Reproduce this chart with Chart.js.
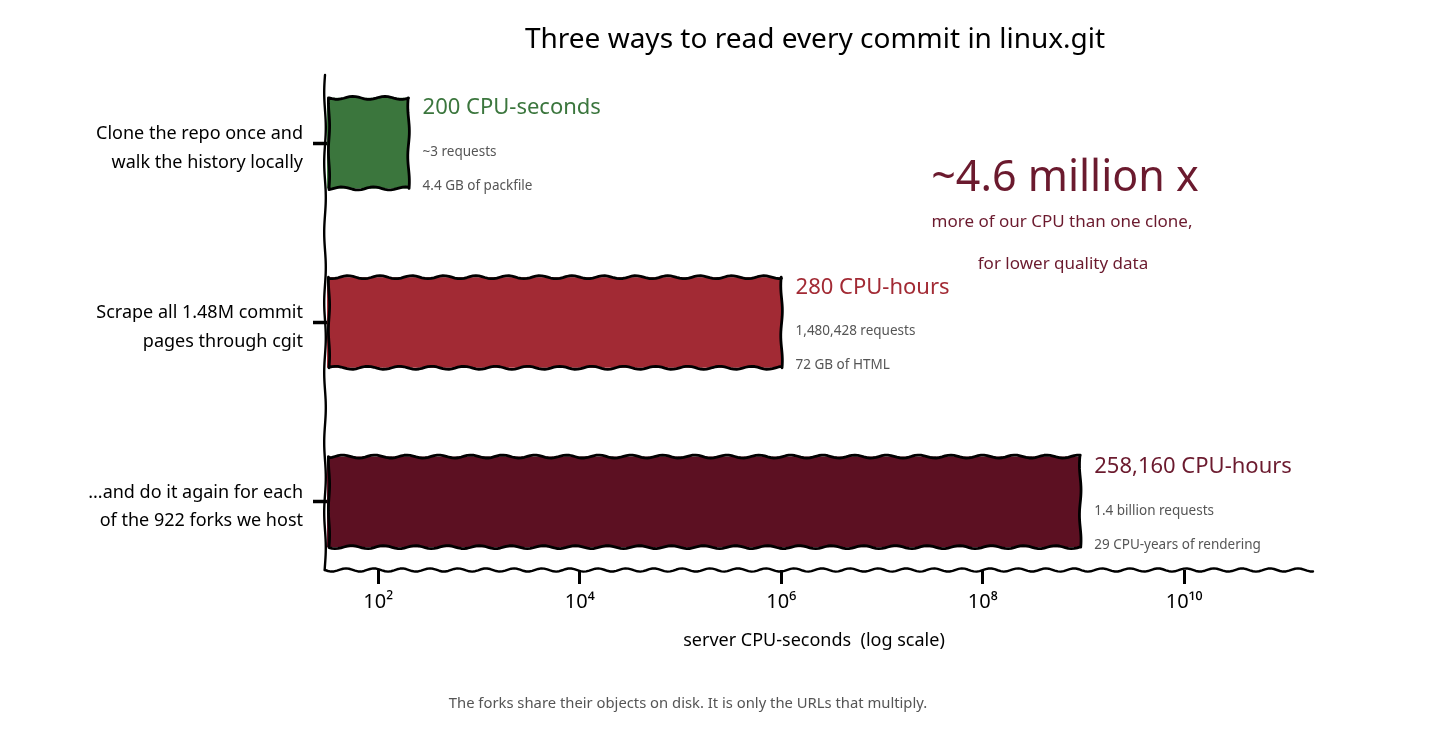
<!DOCTYPE html>
<html>
<head>
<meta charset="utf-8">
<script src="https://cdn.jsdelivr.net/npm/chart.js@4.4.1/dist/chart.umd.min.js"></script>
<style>
  html, body { margin: 0; padding: 0; background: #fff; }
  #wrap { width: 1444px; height: 742px; }
</style>
</head>
<body>
<div id="wrap"><canvas id="c"></canvas></div>
<script>
// data
const categories = [
  ["Clone the repo once and", "walk the history locally"],
  ["Scrape all 1.48M commit", "pages through cgit"],
  ["...and do it again for each", "of the 922 forks we host"]
];
const cpuSeconds = [200, 1008000, 929376000];   // 200 s, 280 h, 258,160 h
const valueLabels = ["200 CPU-seconds", "280 CPU-hours", "258,160 CPU-hours"];
const detailLines = [
  ["~3 requests", "4.4 GB of packfile"],
  ["1,480,428 requests", "72 GB of HTML"],
  ["1.4 billion requests", "29 CPU-years of rendering"]
];
const barColors = ["#3b763d", "#a22a34", "#5c1022"];
const labelColors = ["#3b763d", "#a22a34", "#6b1a2e"];
const xTickValues = [1e2, 1e4, 1e6, 1e8, 1e10];
const xTickLabels = ["10²", "10⁴", "10⁶", "10⁸", "10¹⁰"];

const FONT = "'Noto Sans', sans-serif";

// little sine wobble along a straight line, xkcd style
function wavy(ctx, x0, y0, x1, y1, amp, period, phase, move) {
  const len = Math.hypot(x1 - x0, y1 - y0);
  const nx = -(y1 - y0) / len, ny = (x1 - x0) / len;
  const steps = Math.max(2, Math.round(len / 3));
  for (let i = 0; i <= steps; i++) {
    const t = i / steps;
    const w = amp * Math.sin(2 * Math.PI * (t * len) / period + phase);
    const px = x0 + (x1 - x0) * t + nx * w;
    const py = y0 + (y1 - y0) * t + ny * w;
    if (i === 0 && move) ctx.moveTo(px, py); else ctx.lineTo(px, py);
  }
}

const sketch = {
  id: 'sketch',
  afterDatasetsDraw(chart) {
    const ctx = chart.ctx;
    const area = chart.chartArea;
    const meta = chart.getDatasetMeta(0);
    ctx.save();
    ctx.strokeStyle = '#000';
    ctx.lineWidth = 2.8;
    ctx.lineJoin = 'round';
    ctx.lineCap = 'round';
    meta.data.forEach((bar, i) => {
      const top = bar.y - bar.height / 2, bottom = bar.y + bar.height / 2;
      ctx.beginPath();
      wavy(ctx, bar.base + 2, bottom, bar.base + 2, top, 0.6, 50, 0, true);
      wavy(ctx, bar.base + 2, top, bar.x, top, 1.5, 32, i, false);
      wavy(ctx, bar.x, top, bar.x, bottom, 0.8, 50, 0.5, false);
      wavy(ctx, bar.x, bottom, bar.base + 2, bottom, 1.5, 32, i + 1, false);
      ctx.stroke();

      // value + detail annotations
      ctx.textBaseline = 'middle';
      ctx.textAlign = 'left';
      ctx.fillStyle = labelColors[i];
      ctx.font = '22px ' + FONT;
      ctx.fillText(valueLabels[i], bar.x + 14, bar.y - 35);
      ctx.fillStyle = '#555';
      ctx.font = '13.5px ' + FONT;
      ctx.fillText(detailLines[i][0], bar.x + 14, bar.y + 9);
      ctx.fillText(detailLines[i][1], bar.x + 14, bar.y + 43);
    });

    // axes
    ctx.lineWidth = 2.4;
    ctx.beginPath();
    wavy(ctx, area.left - 2, area.top, area.left - 2, area.bottom, 0.8, 70, 0, true);
    ctx.stroke();
    ctx.beginPath();
    wavy(ctx, area.left - 2, area.bottom, area.right, area.bottom, 1.6, 28, 0, true);
    ctx.stroke();
    ctx.restore();
  },
  afterDraw(chart) {
    const ctx = chart.ctx;
    ctx.save();
    ctx.textAlign = 'center';
    ctx.textBaseline = 'middle';
    ctx.fillStyle = '#000';
    ctx.font = '28px ' + FONT;
    ctx.fillText('Three ways to read every commit in linux.git', 815, 40);
    ctx.font = '18px ' + FONT;
    ctx.fillText('server CPU-seconds  (log scale)', 814, 641);
    ctx.fillStyle = '#555';
    ctx.font = '14.8px ' + FONT;
    ctx.fillText('The forks share their objects on disk. It is only the URLs that multiply.', 688, 704);

    ctx.fillStyle = '#6b1a2e';
    ctx.font = '43px ' + FONT;
    ctx.fillText('~4.6 million x', 1065, 179);
    ctx.font = '17px ' + FONT;
    ctx.fillText('more of our CPU than one clone,', 1062, 222);
    ctx.fillText('for lower quality data', 1063, 264);
    ctx.restore();
  }
};

new Chart(document.getElementById('c'), {
  type: 'bar',
  data: {
    datasets: [{
      data: cpuSeconds.map((v, i) => ({ x: v, y: i })),
      backgroundColor: barColors,
      borderWidth: 0,
      categoryPercentage: 1,
      barPercentage: 0.505
    }]
  },
  options: {
    indexAxis: 'y',
    responsive: true,
    maintainAspectRatio: false,
    animation: false,
    layout: { padding: { top: 75, right: 131, left: 0, bottom: 0 } },
    plugins: { legend: { display: false }, tooltip: { enabled: false } },
    scales: {
      x: {
        type: 'logarithmic',
        min: 31,
        max: 1.9e11,
        afterBuildTicks: s => { s.ticks = xTickValues.map(v => ({ value: v })); },
        afterFit: s => { s.height = 172; },
        ticks: {
          autoSkip: false,
          maxRotation: 0,
          color: '#000',
          font: { family: FONT, size: 20 },
          padding: 6,
          callback: (v) => xTickLabels[xTickValues.indexOf(v)]
        },
        grid: { drawOnChartArea: false, tickLength: 14, tickWidth: 3, tickColor: '#000' },
        border: { display: false }
      },
      y: {
        type: 'linear',
        reverse: true,
        offset: false,
        bounds: 'data',
        min: -0.38,
        max: 2.38,
        afterBuildTicks: s => {
          s.ticks = [0, 1, 2].map(v => ({ value: v }));
          s.min = -0.38;
          s.max = 2.38;
        },
        afterFit: s => { s.width = 327; },
        ticks: {
          autoSkip: false,
          color: '#000',
          font: { family: FONT, size: 18, lineHeight: 1.6 },
          padding: 10,
          labelOffset: 5,
          callback: (v) => categories[v]
        },
        grid: { offset: false, drawOnChartArea: false, tickLength: 14, tickWidth: 3.5, tickColor: '#000' },
        border: { display: false }
      }
    }
  },
  plugins: [sketch]
});
</script>
</body>
</html>
